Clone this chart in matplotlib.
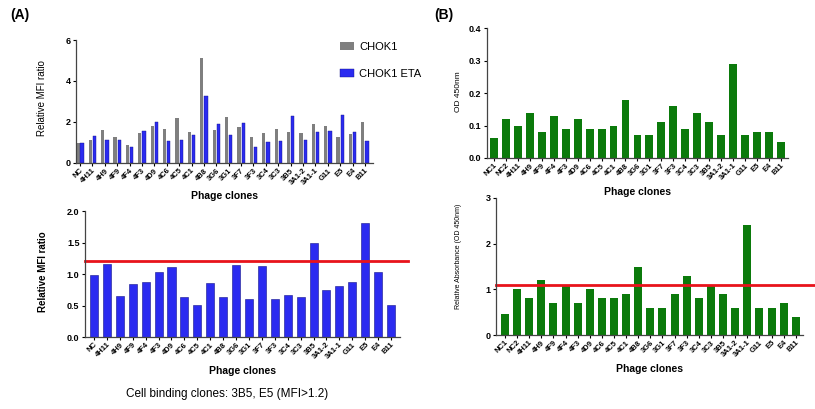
import matplotlib
matplotlib.use("Agg")
import matplotlib.pyplot as plt
import numpy as np

plt.rcParams["font.family"] = ["Liberation Sans", "DejaVu Sans"]

# panel A data
clones_a = ["NC", "4H11", "4H9", "4F9", "4F4", "4F3", "4D9", "4C6", "4C5", "4C1",
            "4B8", "3G6", "3G1", "3F7", "3F3", "3C4", "3C3", "3B5", "3A1-2",
            "3A1-1", "G11", "E5", "E4", "B11"]
chok1 = [0.98, 1.10, 1.63, 1.27, 0.88, 1.48, 1.80, 1.66, 2.20, 1.50,
         5.14, 1.63, 2.25, 1.75, 1.27, 1.48, 1.66, 1.50, 1.47,
         1.88, 1.79, 1.27, 1.40, 2.02]
chok1_eta = [0.98, 1.30, 1.10, 1.10, 0.78, 1.55, 2.00, 1.08, 1.13, 1.35,
             3.28, 1.89, 1.37, 1.94, 0.78, 1.01, 1.08, 2.28, 1.10,
             1.52, 1.57, 2.32, 1.50, 1.06]
mfi_ratio = [0.99, 1.16, 0.65, 0.84, 0.87, 1.04, 1.11, 0.64, 0.51, 0.86,
             0.63, 1.15, 0.60, 1.12, 0.60, 0.67, 0.63, 1.50, 0.74,
             0.81, 0.87, 1.81, 1.04, 0.51]
mfi_cutoff = 1.2

# panel B data
clones_b = ["NC1", "NC2", "4H11", "4H9", "4F9", "4F4", "4F3", "4D9", "4C6", "4C5",
            "4C1", "4B8", "3G6", "3G1", "3F7", "3F3", "3C4", "3C3", "3B5",
            "3A1-2", "3A1-1", "G11", "E5", "E4", "B11"]
od450 = [0.06, 0.12, 0.10, 0.14, 0.08, 0.13, 0.09, 0.12, 0.09, 0.09,
         0.10, 0.18, 0.07, 0.07, 0.11, 0.16, 0.09, 0.14, 0.11,
         0.07, 0.29, 0.07, 0.08, 0.08, 0.05]
rel_abs = [0.45, 1.0, 0.8, 1.2, 0.7, 1.1, 0.7, 1.0, 0.8, 0.8,
           0.9, 1.5, 0.6, 0.6, 0.9, 1.3, 0.8, 1.1, 0.9,
           0.6, 2.4, 0.6, 0.6, 0.7, 0.4]
abs_cutoff = 1.1

GRAY = "#7f7f7f"
BLUE = "#2b2bf0"
BLUE_EDGE = "#14148a"
GREEN = "#0b7a0b"
RED = "#e8131b"


def style_axes(ax, labels, yticks, ytick_text, ylabel, ylabel_size=7, ylabel_bold=False):
    for side in ["top", "right"]:
        ax.spines[side].set_visible(False)
    for side in ["left", "bottom"]:
        ax.spines[side].set_linewidth(0.9)
        ax.spines[side].set_color("#444444")
    ax.set_xticks(np.arange(len(labels)))
    ax.set_xticklabels(labels, rotation=45, ha="right", rotation_mode="anchor",
                       fontsize=5.5, fontweight="bold")
    ax.set_yticks(yticks)
    ax.set_yticklabels(ytick_text, fontsize=6.5, fontweight="bold")
    ax.tick_params(axis="y", length=2.5, width=0.8, pad=1.5)
    ax.tick_params(axis="x", length=2, width=0.8, pad=1)
    ax.set_ylim(yticks[0], yticks[-1])
    ax.set_xlabel("Phage clones", fontsize=7.5, fontweight="bold", labelpad=4)
    ax.set_ylabel(ylabel, fontsize=ylabel_size,
                  fontweight="bold" if ylabel_bold else "normal")


fig = plt.figure(figsize=(8.15, 4.09), dpi=100)

# (A) top: CHOK1 vs CHOK1 ETA
ax1 = fig.add_axes([0.0933, 0.6015, 0.3644, 0.3007])
x_a = np.arange(len(clones_a))
ax1.bar(x_a - 0.17, chok1, width=0.26, color=GRAY, label="CHOK1")
ax1.bar(x_a + 0.17, chok1_eta, width=0.26, color=BLUE, edgecolor=BLUE_EDGE,
        linewidth=0.3, label="CHOK1 ETA")
ax1.set_xlim(-0.32, len(clones_a) - 0.35)
style_axes(ax1, clones_a, [0, 2, 4, 6], ["0", "2", "4", "6"],
           "Relative MFI ratio", ylabel_size=7)
ax1.xaxis.labelpad = 3
ax1.legend(loc="upper left", bbox_to_anchor=(0.875, 1.02), frameon=False,
           fontsize=8, handlelength=1.2, handleheight=0.8, labelspacing=1.5,
           handletextpad=0.5, borderaxespad=0)

# (A) bottom: MFI ratio
ax2 = fig.add_axes([0.1043, 0.176, 0.3865, 0.308])
ax2.bar(x_a, mfi_ratio, width=0.62, color=BLUE, edgecolor=BLUE_EDGE, linewidth=0.4)
ax2.set_xlim(-0.7, len(clones_a) - 0.3)
style_axes(ax2, clones_a, [0.0, 0.5, 1.0, 1.5, 2.0],
           ["0.0", "0.5", "1.0", "1.5", "2.0"], "Relative MFI ratio",
           ylabel_size=7, ylabel_bold=True)
ax2.axhline(mfi_cutoff, xmin=0, xmax=1.025, color=RED, linewidth=2, clip_on=False)

# (B) top: OD 450nm
ax3 = fig.add_axes([0.5975, 0.6137, 0.3693, 0.3178])
x_b = np.arange(len(clones_b))
ax3.bar(x_b, od450, width=0.66, color=GREEN)
ax3.set_xlim(-0.58, len(clones_b) - 0.42)
style_axes(ax3, clones_b, [0.0, 0.1, 0.2, 0.3, 0.4],
           ["0.0", "0.1", "0.2", "0.3", "0.4"], "OD 450nm", ylabel_size=6)

# (B) bottom: relative absorbance
ax4 = fig.add_axes([0.6086, 0.1809, 0.3767, 0.335])
ax4.bar(x_b, rel_abs, width=0.66, color=GREEN)
ax4.set_xlim(-0.74, len(clones_b) - 0.4)
style_axes(ax4, clones_b, [0, 1, 2, 3], ["0", "1", "2", "3"],
           "Relative Absorbance (OD 450nm)", ylabel_size=5)
ax4.yaxis.label.set_family(["Liberation Sans Narrow", "Liberation Sans", "DejaVu Sans"])

# y labels: right edge at a fixed figure x, vertical centre in figure coords
label_spots = [(ax1, 0.0577, 0.760), (ax2, 0.059, 0.335),
               (ax3, 0.567, 0.775), (ax4, 0.567, 0.374)]
for ax, x, y in label_spots:
    ax.yaxis.set_label_coords(x, y, transform=fig.transFigure)

ax4.axhline(abs_cutoff, xmin=0, xmax=1.06, color=RED, linewidth=2, clip_on=False)

fig.text(0.012, 0.963, "(A)", fontsize=10, fontweight="bold", va="center")
fig.text(0.533, 0.963, "(B)", fontsize=10, fontweight="bold", va="center")
fig.text(0.279, 0.037, "Cell binding clones: 3B5, E5 (MFI>1.2)", fontsize=8.5,
         ha="center", va="center")

fig.savefig("out.png", dpi=100)
